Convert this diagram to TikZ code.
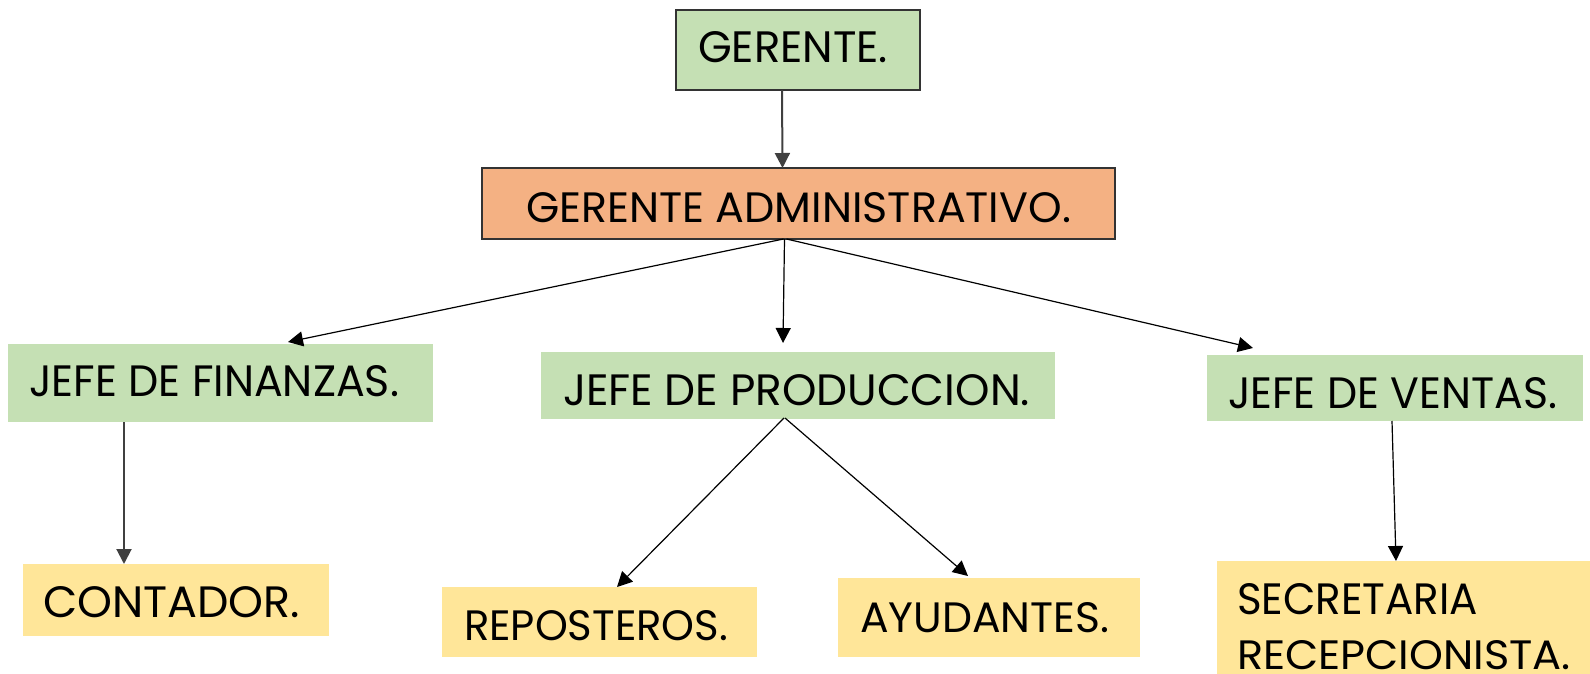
\documentclass[tikz,border=0pt]{standalone}
\usepackage{fontspec}
\setmainfont{Poppins}
\usetikzlibrary{arrows.meta}
\definecolor{boxgreen}{HTML}{C5E0B4}
\definecolor{boxorange}{HTML}{F4B183}
\definecolor{boxyellow}{HTML}{FFE699}
\definecolor{linegray}{HTML}{404040}
\definecolor{edgegray}{HTML}{333333}
\newcommand{\fittxt}[3]{\resizebox{#1pt}{#2pt}{\fontsize{44}{50}\selectfont #3}}
\begin{document}
\begin{tikzpicture}[x=1pt,y=-1pt,
  box/.style={inner sep=0pt, outer sep=0pt, anchor=north west},
  framed/.style={box, draw=edgegray, line width=1.3pt},
  lbl/.style={inner sep=0pt, outer sep=0pt, anchor=base west},
  conn/.style={-{Triangle[length=15pt,width=15pt]}, line width=1.2pt, black},
  thick conn/.style={-{Triangle[length=15pt,width=15pt]}, line width=2pt, linegray},
]
\useasboundingbox (0,0) rectangle (1590,674);

% boxes
\node[framed, fill=boxgreen, minimum width=244pt, minimum height=80pt] (ger) at (676,10) {};
\node[framed, fill=boxorange, minimum width=633pt, minimum height=71pt] (adm) at (482,168) {};
\node[box, fill=boxgreen, minimum width=425pt, minimum height=78pt] (fin) at (8,344) {};
\node[box, fill=boxgreen, minimum width=514pt, minimum height=67pt] (prod) at (541,352) {};
\node[box, fill=boxgreen, minimum width=376pt, minimum height=66pt] (ven) at (1207,355) {};
\node[box, fill=boxyellow, minimum width=306pt, minimum height=72pt] (cont) at (23,564) {};
\node[box, fill=boxyellow, minimum width=315pt, minimum height=70pt] (rep) at (442,587) {};
\node[box, fill=boxyellow, minimum width=302pt, minimum height=79pt] (ayu) at (838,578) {};
\node[box, fill=boxyellow, minimum width=373pt, minimum height=113pt] (sec) at (1217,561) {};

% texts
\node[lbl] (gerT) at (698,63) {\fittxt{190}{31}{GERENTE.}};
\node[lbl] (admT) at (526,222) {\fittxt{545}{30}{GERENTE ADMINISTRATIVO.}};
\node[lbl] (finT) at (29,396) {\fittxt{370}{31}{JEFE DE FINANZAS.}};
\node[lbl] (prodT) at (563,405) {\fittxt{467}{31}{JEFE DE PRODUCCION.}};
\node[lbl] (venT) at (1228,408) {\fittxt{329}{31}{JEFE DE VENTAS.}};
\node[lbl] (contT) at (43,617) {\fittxt{257}{31}{CONTADOR.}};
\node[lbl] (repT) at (464,640) {\fittxt{264}{30}{REPOSTEROS.}};
\node[lbl] (ayuT) at (860,632) {\fittxt{249}{30}{AYUDANTES.}};
\node[lbl] (secT1) at (1237,614) {\fittxt{241}{31}{SECRETARIA}};
\node[lbl] (secT2) at (1237,669) {\fittxt{334}{29}{RECEPCIONISTA.}};

% connectors
\draw[thick conn] ([xshift=-16pt]ger.south) -- ([xshift=-16pt]adm.north);
\draw[conn] ([xshift=-15pt]adm.south) -- ([xshift=67.5pt,yshift=2pt]fin.north);
\draw[conn] ([xshift=-14pt]adm.south) -- ([xshift=-15pt,yshift=9pt]prod.north);
\draw[conn] ([xshift=-12pt]adm.south) -- ([xshift=-142pt,yshift=7pt]ven.north);
\draw[thick conn] ([xshift=-96.5pt]fin.south) -- ([xshift=-52pt]cont.north);
\draw[conn] ([xshift=-14pt,yshift=1pt]prod.south) -- ([xshift=17.5pt]rep.north);
\draw[conn] ([xshift=-13pt,yshift=1pt]prod.south) -- ([xshift=-21pt,yshift=2pt]ayu.north);
\draw[conn] ([xshift=-3pt]ven.south) -- ([xshift=-7.5pt]sec.north);
\end{tikzpicture}
\end{document}
